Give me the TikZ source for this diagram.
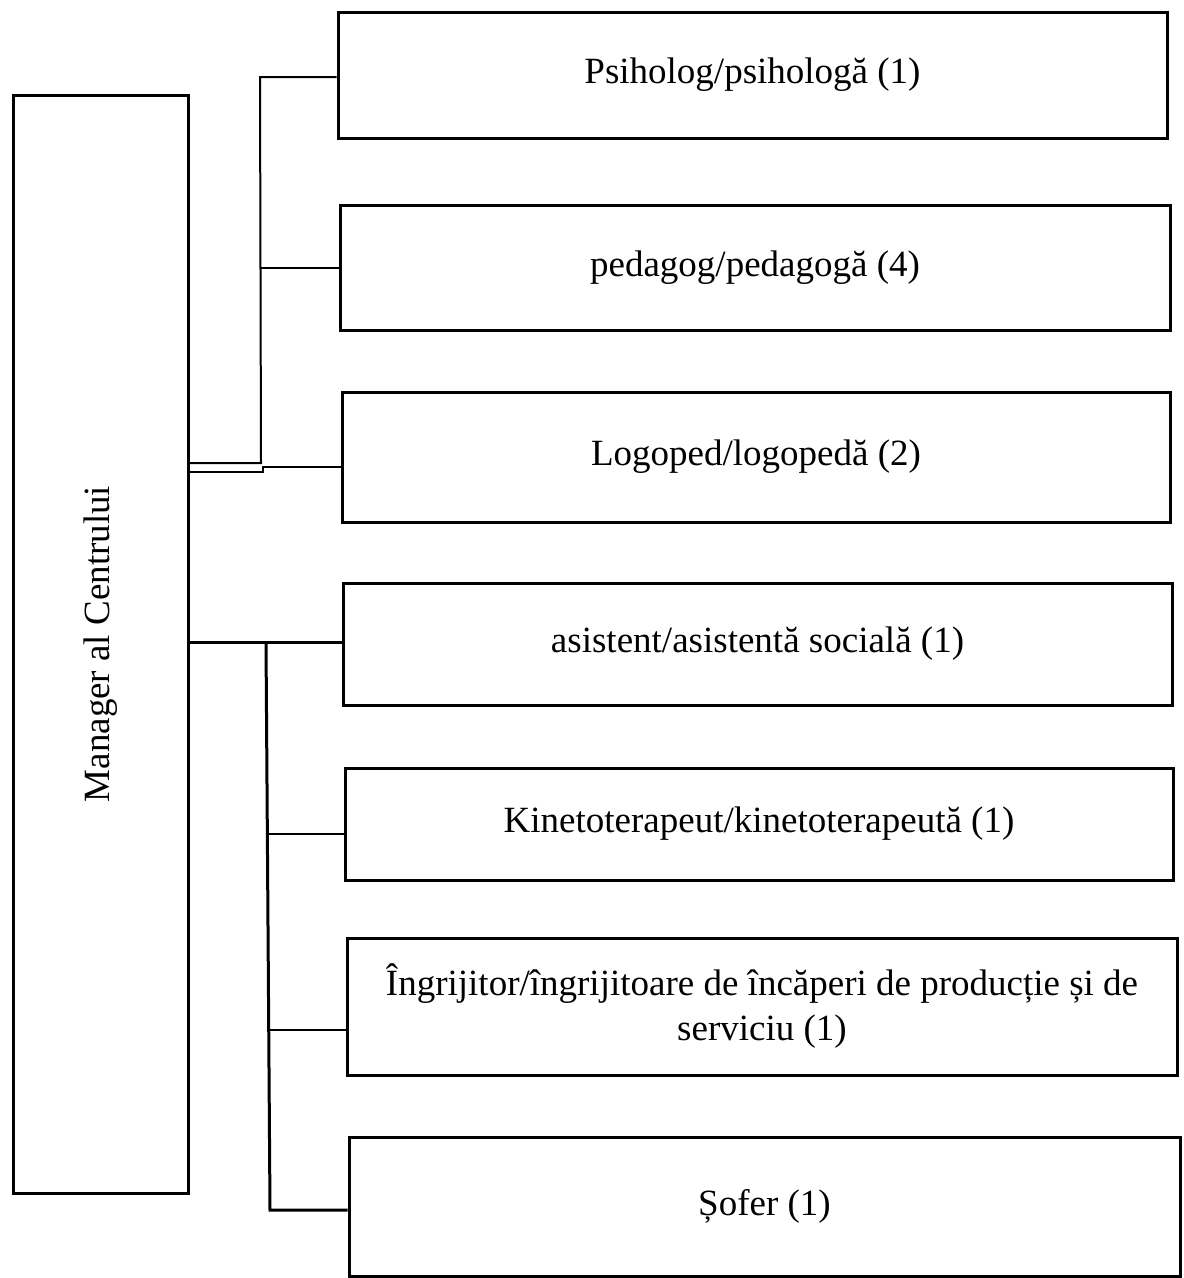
\documentclass[tikz,border=0pt]{standalone}
\usepackage{fontspec}
\setmainfont{Liberation Serif}
\begin{document}
\begin{tikzpicture}[x=1pt,y=-1pt,
  box/.style={draw=black, line width=3pt, rectangle, inner sep=0pt, align=center,
    font=\fontsize{37}{45}\selectfont},
  thinlink/.style={draw=black, line width=2pt},
  thicklink/.style={draw=black, line width=3pt}]
\useasboundingbox (0,0) rectangle (1184,1278);
% manager box
\node[box, minimum width=175pt, minimum height=1098pt] (mgr) at (100.5,644) {};
\node[rotate=90, inner sep=0pt, font=\fontsize{37}{45}\selectfont] (mgrtext) at (mgr.center) {Manager al Centrului};
% right boxes
\node[box, minimum width=829pt, minimum height=126pt] (b1) at (752.5,75) {Psiholog/psihologă (1)};
\node[box, minimum width=830pt, minimum height=125pt] (b2) at (755,267.5) {pedagog/pedagogă (4)};
\node[box, minimum width=828pt, minimum height=130pt] (b3) at (756,457) {Logoped/logopedă (2)};
\node[box, minimum width=829pt, minimum height=122pt] (b4) at (757.5,644) {asistent/asistentă socială (1)};
\node[box, minimum width=828pt, minimum height=112pt] (b5) at (759,824) {Kinetoterapeut/kinetoterapeută (1)};
\node[box, minimum width=830pt, minimum height=137pt] (b6) at (762,1006.5) {Îngrijitor/îngrijitoare de încăperi de producție și de\\serviciu (1)};
\node[box, minimum width=831pt, minimum height=139pt] (b7) at (764.5,1206.5) {Șofer (1)};
% upper connector group
\coordinate (u0) at (260,77);
\coordinate (u1) at (261,463);
\coordinate (u2) at (263,472);
\coordinate (u3) at (263,467);
\draw[thinlink] (mgr.east |- u1) -- (u1) -- (u0) -- (b1.west |- u0);
\draw[thinlink] (u0 |- b2.west) -- (b2.west);
\draw[thinlink] (mgr.east |- u2) -- (u2) -- (u3) -- (b3.west |- u3);
% lower connector group
\coordinate (l0) at (266,642);
\coordinate (l1) at (270,1210);
\coordinate (l2) at (268,834);
\coordinate (l3) at (269,1030);
\draw[thicklink] (mgr.east |- l0) -- (l0) -- (b4.west |- l0);
\draw[thicklink] (l0) -- (l1) -- (b7.west |- l1);
\draw[thinlink] (l2) -- (b5.west |- l2);
\draw[thinlink] (l3) -- (b6.west |- l3);
\end{tikzpicture}
\end{document}
